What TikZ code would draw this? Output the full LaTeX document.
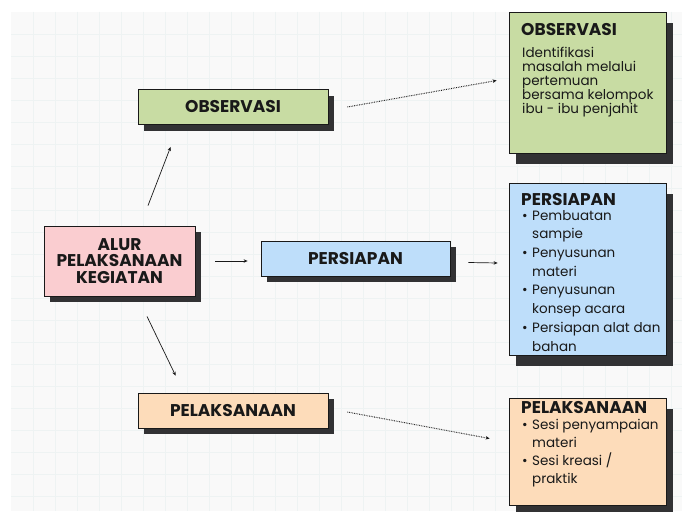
\documentclass[tikz,border=0pt]{standalone}
\usepackage{fontspec}
\setmainfont{Poppins}
\usetikzlibrary{shadows,calc,arrows.meta}
\definecolor{bggray}{RGB}{249,249,249}
\definecolor{gridgray}{RGB}{238,243,243}
\definecolor{boxgreen}{RGB}{200,220,163}
\definecolor{boxpink}{RGB}{250,205,208}
\definecolor{boxblue}{RGB}{190,222,250}
\definecolor{boxpeach}{RGB}{253,220,186}
\definecolor{shadowgray}{RGB}{50,50,52}
\definecolor{txt}{RGB}{25,25,25}
\tikzset{
  boxbase/.style={draw=txt, line width=0.8pt, rectangle, inner sep=0pt, text=txt},
  smallshadow/.style={general shadow={fill=shadowgray, shadow xshift=5.5pt, shadow yshift=-6pt}},
  bigshadow/.style={general shadow={fill=shadowgray, shadow xshift=7pt, shadow yshift=-11pt}},
  headfont/.style={font=\fontsize{17}{18}\selectfont\bfseries},
  smallbox/.style={boxbase, smallshadow, minimum width=190pt, minimum height=35pt, headfont},
  bigbox/.style={boxbase, bigshadow, minimum width=157pt},
  bighead/.style={anchor=west, inner sep=0pt, text=txt, headfont},
  bodytext/.style={anchor=north west, inner sep=0pt, text=txt, align=left},
  arr/.style={-{Stealth[length=4pt,width=3.5pt]}, line width=0.7pt, draw=txt},
  dotarr/.style={arr, densely dotted, line width=1pt},
  gridline/.style={draw=gridgray, line width=0.6pt},
}
\newcommand{\bul}{\makebox[10pt][l]{•}}
\newcommand{\ind}{\hspace*{10pt}}
\begin{document}
\begin{tikzpicture}[x=1pt,y=-1pt]
\useasboundingbox (0,0) rectangle (682,511);
\fill[white] (0,0) rectangle (682,511);
\fill[bggray] (11,12) rectangle (682,511);
\foreach \gx in {33,55,...,682} {\draw[gridline] (\gx,12) -- (\gx,511);}
\foreach \gy in {34,56,...,511} {\draw[gridline] (11,\gy) -- (682,\gy);}

% left and middle boxes
\node[boxbase, smallshadow, fill=boxpink, minimum width=151pt, minimum height=70pt,
      align=center, font=\fontsize{17}{16.5}\selectfont\bfseries] (alur) at (119.5,261)
      {ALUR\\PELAKSANAAN\\KEGIATAN};
\node[smallbox, fill=boxgreen] (obs) at (233,107) {OBSERVASI};
\node[smallbox, fill=boxblue, minimum width=189pt] (pers) at (355.5,258.5) {PERSIAPAN};
\node[smallbox, fill=boxpeach] (pel) at (233,410.5) {PELAKSANAAN};

% right boxes
\node[bigbox, fill=boxgreen, minimum height=141pt] (obsR) at (587.5,82.5) {};
\node[bighead] (obsRh) at (521,30) {OBSERVASI};
\node[bodytext, font=\fontsize{13.5}{14}\selectfont] (obsRb) at (522,47)
  {Identifikasi\\masalah melalui\\pertemuan\\bersama kelompok\\ibu - ibu penjahit};

\node[bigbox, fill=boxblue, minimum height=172pt] (persR) at (587.5,269) {};
\node[bighead] (persRh) at (521,200) {PERSIAPAN};
\node[bodytext, font=\fontsize{13.5}{18.7}\selectfont] (persRb) at (522,210)
  {\bul Pembuatan\\\ind sampie\\\bul Penyusunan\\\ind materi\\\bul Penyusunan\\\ind konsep acara\\\bul Persiapan alat dan\\\ind bahan};

\node[bigbox, fill=boxpeach, minimum height=107pt] (pelR) at (587.5,451.5) {};
\node[bighead] (pelRh) at (521,407.5) {PELAKSANAAN};
\node[bodytext, font=\fontsize{13.5}{17.8}\selectfont] (pelRb) at (522,419.5)
  {\bul Sesi penyampaian\\\ind materi\\\bul Sesi kreasi /\\\ind praktik};

% connectors
\draw[arr] ($(alur.north)+(28.5,-20)$) -- ($(obs.south west)+(33,22)$);
\draw[arr] ($(alur.south)+(27.5,20)$) -- ($(pel.north west)+(38,-17)$);
\draw[arr, shorten <=20pt, shorten >=13pt] (alur.east) -- (alur.east -| pers.west);
\draw[arr] ($(pers.east)+(18,4)$) -- ($(persR.west)+(-11,-6)$);
\draw[dotarr] ($(obs.east)+(19,0)$) -- ($(obsR.west)+(-12,-2)$);
\draw[dotarr] ($(pel.east)+(19,1.5)$) -- ($(pelR.west)+(-19,-13)$);
\end{tikzpicture}
\end{document}
